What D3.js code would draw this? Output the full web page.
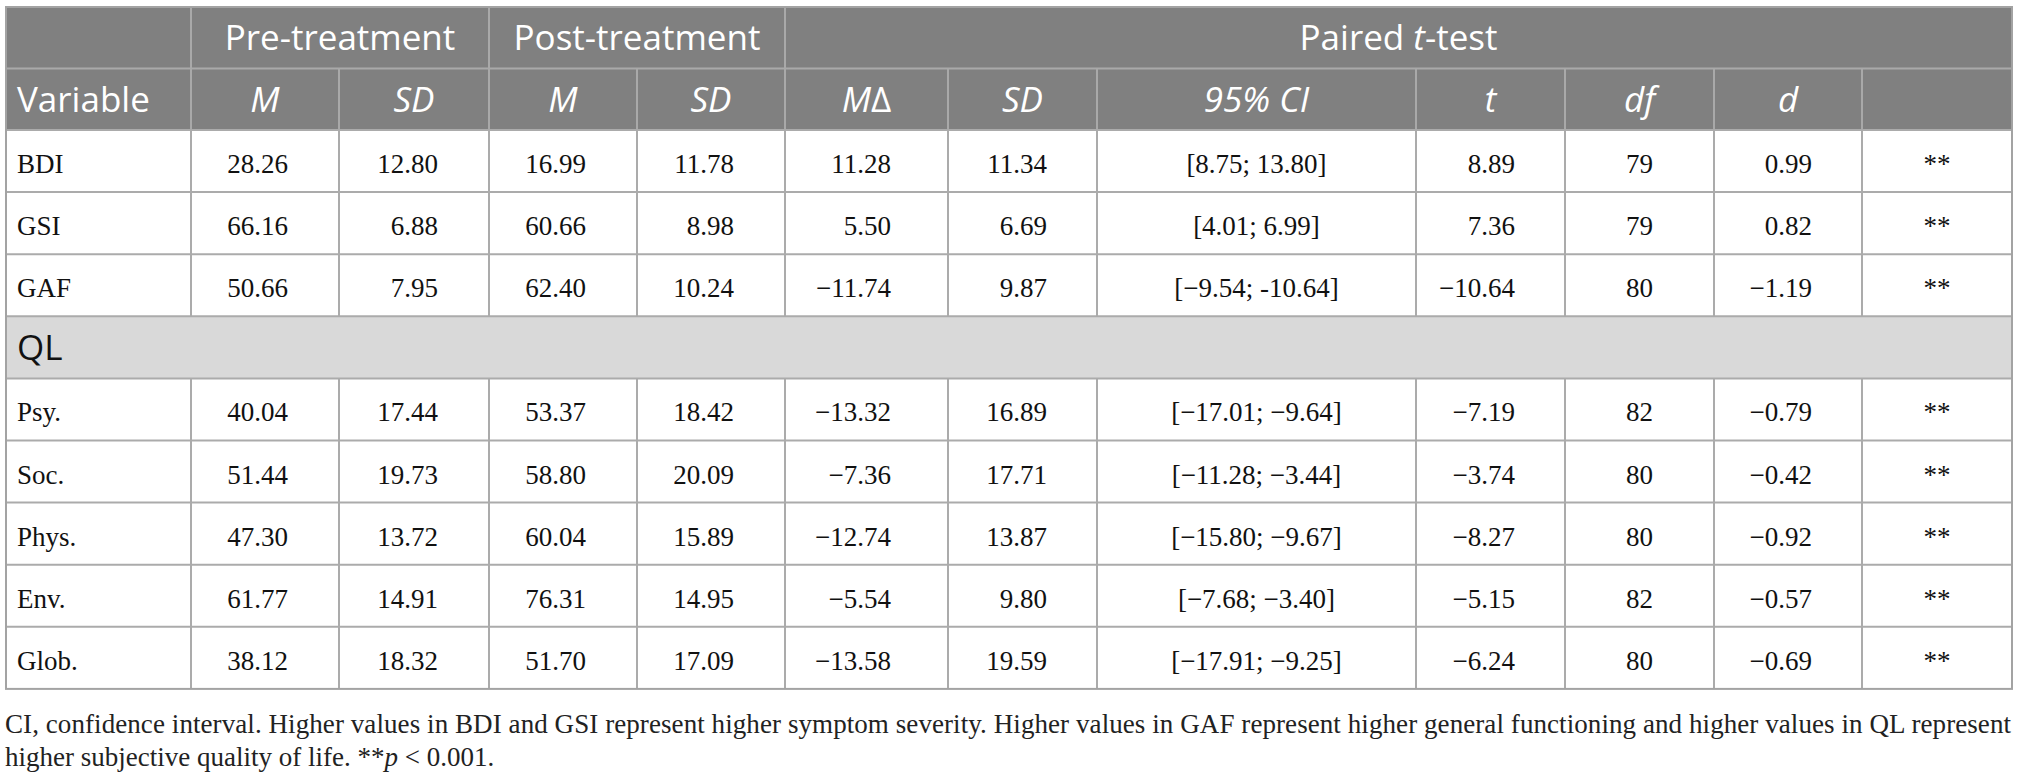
<!DOCTYPE html>
<html>
<head>
<meta charset="utf-8">
<script src="https://cdn.jsdelivr.net/npm/d3@7"></script>
<style>
  html, body { margin: 0; padding: 0; background: #fff; }
  svg { display: block; }
</style>
</head>
<body>
<script>
var variables = ["BDI", "GSI", "GAF", "QL", "Psy.", "Soc.", "Phys.", "Env.", "Glob."];
var sectionRows = ["QL"];
var preM   = [28.26, 66.16, 50.66, null, 40.04, 51.44, 47.30, 61.77, 38.12];
var preSD  = [12.80, 6.88, 7.95, null, 17.44, 19.73, 13.72, 14.91, 18.32];
var postM  = [16.99, 60.66, 62.40, null, 53.37, 58.80, 60.04, 76.31, 51.70];
var postSD = [11.78, 8.98, 10.24, null, 18.42, 20.09, 15.89, 14.95, 17.09];
var meanDiff = [11.28, 5.50, -11.74, null, -13.32, -7.36, -12.74, -5.54, -13.58];
var diffSD = [11.34, 6.69, 9.87, null, 16.89, 17.71, 13.87, 9.80, 19.59];
var ci95 = ["[8.75; 13.80]", "[4.01; 6.99]", "[\u22129.54; -10.64]", null, "[\u221217.01; \u22129.64]",
            "[\u221211.28; \u22123.44]", "[\u221215.80; \u22129.67]", "[\u22127.68; \u22123.40]", "[\u221217.91; \u22129.25]"];
var tVal = [8.89, 7.36, -10.64, null, -7.19, -3.74, -8.27, -5.15, -6.24];
var dfVal = [79, 79, 80, null, 82, 80, 80, 82, 80];
var dVal = [0.99, 0.82, -1.19, null, -0.79, -0.42, -0.92, -0.57, -0.69];
var sig = ["**", "**", "**", null, "**", "**", "**", "**", "**"];

var groupLabels = ["", "Pre-treatment", "Post-treatment", "Paired t-test"];
var groupSpans = [1, 2, 2, 7];
var subLabels = ["Variable", "M", "SD", "M", "SD", "M\u0394", "SD", "95% CI", "t", "df", "d", ""];

var noteLines = [
  "CI, confidence interval. Higher values in BDI and GSI represent higher symptom severity. Higher values in GAF represent higher general functioning and higher values in QL represent",
  "higher subjective quality of life. **p < 0.001."
];

// ---- layout ----
var W = 2018, H = 781;
var tblLeft = 6, tblTop = 7;
var colWidths = [185, 148, 150, 148, 148, 163, 149, 319, 149, 149, 148, 150];
var edges = [tblLeft].concat(Array.from(d3.cumsum(colWidths), v => v + tblLeft));
var tblRight = edges[edges.length - 1];
var headH = 61.5, rowH = 62.1;
var bodyTop = tblTop + 2 * headH;

var y = d3.scaleBand()
    .domain(variables)
    .range([bodyTop, bodyTop + rowH * variables.length]);
var bodyBottom = y.range()[1];

var fmt2 = d3.format(".2f"), fmtInt = d3.format("d");

// column spec: values + how they sit in the cell
var columns = [
  {values: variables, align: "start", pad: 11, fmt: v => v},
  {values: preM, align: "end", pad: 51, fmt: fmt2},
  {values: preSD, align: "end", pad: 51, fmt: fmt2},
  {values: postM, align: "end", pad: 51, fmt: fmt2},
  {values: postSD, align: "end", pad: 51, fmt: fmt2},
  {values: meanDiff, align: "end", pad: 57, fmt: fmt2},
  {values: diffSD, align: "end", pad: 50, fmt: fmt2},
  {values: ci95, align: "middle", fmt: v => v},
  {values: tVal, align: "end", pad: 50, fmt: fmt2},
  {values: dfVal, align: "middle", fmt: fmtInt},
  {values: dVal, align: "end", pad: 50, fmt: fmt2},
  {values: sig, align: "middle", fmt: v => v}
];

function cellX(ci, align, pad) {
  if (align === "start") return edges[ci] + pad;
  if (align === "end") return edges[ci + 1] - pad;
  return (edges[ci] + edges[ci + 1]) / 2;
}

var sans = "'Open Sans', 'Noto Sans', sans-serif",
    serif = "'Liberation Serif', 'DejaVu Serif', serif",
    headFill = "#808080", headLine = "#a9a9a9", gridLine = "#ababab", sectionFill = "#d9d9d9";

var svg = d3.select("body").append("svg")
    .attr("width", W)
    .attr("height", H);

// backgrounds
svg.append("rect")
    .attr("x", tblLeft).attr("y", tblTop)
    .attr("width", tblRight - tblLeft).attr("height", bodyTop - tblTop)
    .attr("fill", headFill);

svg.selectAll(".section-bg")
    .data(sectionRows)
  .enter().append("rect")
    .attr("class", "section-bg")
    .attr("x", tblLeft).attr("y", d => y(d))
    .attr("width", tblRight - tblLeft).attr("height", y.bandwidth())
    .attr("fill", sectionFill);

// header grid
var grid = svg.append("g").attr("fill", "none");
grid.append("line")
    .attr("x1", tblLeft).attr("x2", tblRight)
    .attr("y1", tblTop + headH).attr("y2", tblTop + headH)
    .attr("stroke", headLine).attr("stroke-width", 2);

var groupEdges = Array.from(d3.cumsum(groupSpans)).slice(0, -1);
grid.selectAll(".hv1")
    .data(groupEdges)
  .enter().append("line")
    .attr("x1", i => edges[i]).attr("x2", i => edges[i])
    .attr("y1", tblTop).attr("y2", tblTop + headH)
    .attr("stroke", headLine).attr("stroke-width", 2);

grid.selectAll(".hv2")
    .data(d3.range(1, colWidths.length))
  .enter().append("line")
    .attr("x1", i => edges[i]).attr("x2", i => edges[i])
    .attr("y1", tblTop + headH).attr("y2", bodyTop)
    .attr("stroke", headLine).attr("stroke-width", 2);

// body grid
grid.selectAll(".bh")
    .data(variables.slice(1).map(v => y(v)).concat([bodyTop]))
  .enter().append("line")
    .attr("x1", tblLeft).attr("x2", tblRight)
    .attr("y1", d => d).attr("y2", d => d)
    .attr("stroke", gridLine).attr("stroke-width", 2);

var plainRows = variables.filter(v => sectionRows.indexOf(v) < 0);
plainRows.forEach(function(v) {
  grid.selectAll(null)
      .data(d3.range(1, colWidths.length))
    .enter().append("line")
      .attr("x1", i => edges[i]).attr("x2", i => edges[i])
      .attr("y1", y(v)).attr("y2", y(v) + y.bandwidth())
      .attr("stroke", gridLine).attr("stroke-width", 2);
});

// outer border
grid.append("rect")
    .attr("x", tblLeft).attr("y", tblTop)
    .attr("width", tblRight - tblLeft).attr("height", bodyBottom - tblTop)
    .attr("stroke", "#a3a3a3").attr("stroke-width", 2);

// header text, row 1
var gStart = [0].concat(groupEdges);
svg.append("g")
    .attr("font-family", sans).attr("font-size", 35).attr("fill", "#fff")
    .attr("text-anchor", "middle")
  .selectAll("text")
    .data(groupLabels.map((t, i) => ({t: t, a: gStart[i], b: gStart[i] + groupSpans[i]})))
  .enter().append("text")
    .attr("x", d => (edges[d.a] + edges[d.b]) / 2)
    .attr("y", tblTop + headH / 2 + 12.5)
    .each(function(d) {
      var sel = d3.select(this);
      var m = d.t.match(/^(.* )(t)(-.*)$/);
      if (m) {
        sel.append("tspan").text(m[1]);
        sel.append("tspan").attr("font-style", "italic").text(m[2]);
        sel.append("tspan").text(m[3]);
      } else {
        sel.text(d.t);
      }
    });

// header text, row 2
svg.append("g")
    .attr("font-family", sans).attr("font-size", 35).attr("fill", "#fff")
  .selectAll("text")
    .data(subLabels)
  .enter().append("text")
    .attr("text-anchor", (d, i) => i === 0 ? "start" : "middle")
    .attr("x", (d, i) => i === 0 ? edges[0] + 11 : (edges[i] + edges[i + 1]) / 2)
    .attr("y", tblTop + headH * 1.5 + 12.5)
    .each(function(d, i) {
      var sel = d3.select(this);
      if (i === 0) { sel.text(d); return; }
      if (d.indexOf("\u0394") > 0) {
        sel.append("tspan").attr("font-style", "italic").text(d.slice(0, -1));
        sel.append("tspan").text("\u0394");
      } else {
        sel.attr("font-style", "italic").text(d);
      }
    });

// body text
var body = svg.append("g").attr("font-family", serif).attr("font-size", 27).attr("fill", "#111");
columns.forEach(function(col, ci) {
  body.selectAll(null)
      .data(variables.map((v, ri) => ({row: v, val: col.values[ri]})).filter(d => d.val != null && sectionRows.indexOf(d.row) < 0))
    .enter().append("text")
      .attr("text-anchor", col.align)
      .attr("x", cellX(ci, col.align, col.pad))
      .attr("y", d => y(d.row) + y.bandwidth() / 2 + 12)
      .text(d => col.fmt(d.val));
});

svg.selectAll(".section-label")
    .data(sectionRows)
  .enter().append("text")
    .attr("x", edges[0] + 11)
    .attr("y", d => y(d) + y.bandwidth() / 2 + 13)
    .attr("font-family", sans).attr("font-size", 35).attr("fill", "#111")
    .text(d => d);

// note under the table
var note = svg.append("g").attr("font-family", serif).attr("font-size", 27).attr("fill", "#222");
note.append("text")
    .attr("x", tblLeft - 1).attr("y", 733)
    .attr("textLength", tblRight - tblLeft).attr("lengthAdjust", "spacing")
    .text(noteLines[0]);
var l2 = note.append("text").attr("x", tblLeft - 1).attr("y", 766);
var parts = noteLines[1].match(/^(.*\*\*)(p)(.*)$/);
l2.append("tspan").text(parts[1]);
l2.append("tspan").attr("font-style", "italic").text(parts[2]);
l2.append("tspan").text(parts[3]);
</script>
</body>
</html>
